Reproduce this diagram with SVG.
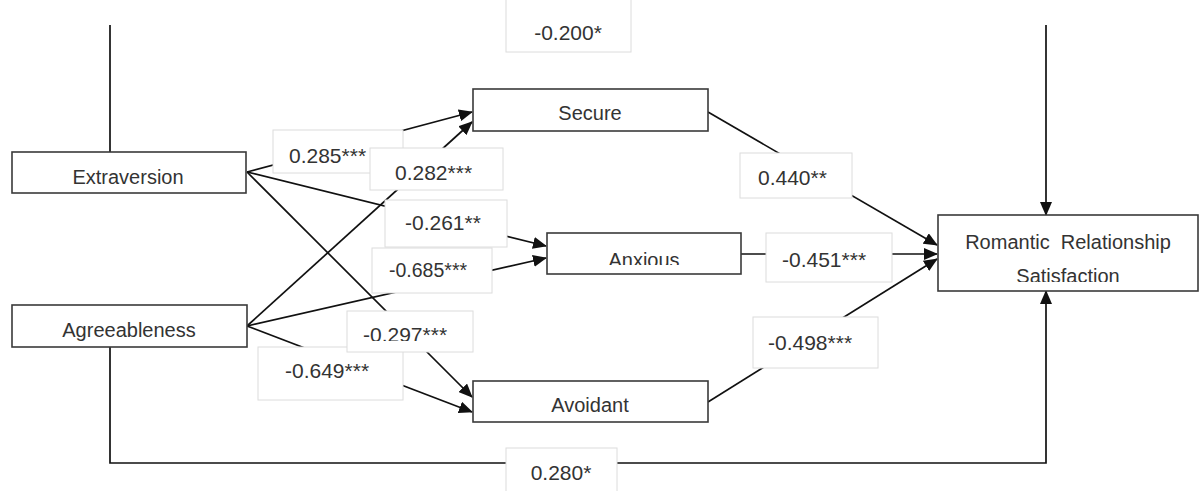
<svg xmlns="http://www.w3.org/2000/svg" width="1203" height="491" viewBox="0 0 1203 491">
<style>
  .node rect { fill: #fff; stroke: #3a3a3a; stroke-width: 1.6; }
  .node text { font-family: "Liberation Sans", Arial, sans-serif; font-size: 20px; fill: #333; text-anchor: middle; }
  .conn { fill: none; stroke: #111; stroke-width: 1.7; }
  .arr { marker-end: url(#ah); }
  .lbl rect { fill: #fff; stroke: #dcdcdc; stroke-width: 1; }
  .lbl text { font-family: "Liberation Sans", Arial, sans-serif; font-size: 21px; fill: #333; }
</style>
<defs>
  <marker id="ah" markerUnits="userSpaceOnUse" markerWidth="14" markerHeight="12" refX="13" refY="6" orient="auto">
    <path d="M0,0 L14,6 L0,12 z" fill="#111"/>
  </marker>
  <clipPath id="clipAnx"><rect x="547" y="233" width="194" height="32"/></clipPath>
  <clipPath id="clipSat"><rect x="938" y="258" width="260" height="24"/></clipPath>
  <clipPath id="clip297"><rect x="347" y="311" width="126" height="30"/></clipPath>
  <clipPath id="clip285"><rect x="273" y="130" width="97" height="43"/></clipPath>
</defs>
<rect width="1203" height="491" fill="#fff"/>

<g id="connectors">
  <path class="conn" d="M110,152 V25"/>
  <path class="conn arr" d="M1046,25 V215"/>
  <path class="conn arr" d="M110,347 V463 H1046 V291"/>
  <path class="conn arr" d="M247,172 L472,112"/>
  <path class="conn arr" d="M247,326 L472,122"/>
  <path class="conn arr" d="M247,172 L546,246"/>
  <path class="conn arr" d="M247,326 L546,258"/>
  <path class="conn arr" d="M247,172 L472,397"/>
  <path class="conn arr" d="M247,326 L472,412"/>
  <path class="conn arr" d="M708,112 L937,245"/>
  <path class="conn arr" d="M741,254 L937,254"/>
  <path class="conn arr" d="M708,402 L937,259"/>
</g>

<g id="labels">
  <g class="lbl"><rect x="506" y="-2" width="125" height="54"/><text x="568" y="40" text-anchor="middle">-0.200*</text></g>
  <g class="lbl"><rect x="273" y="130" width="130" height="43"/><text x="289" y="163" clip-path="url(#clip285)">0.285***</text></g>
  <g class="lbl"><rect x="370" y="148" width="133" height="42"/><text x="395" y="180">0.282***</text></g>
  <g class="lbl"><rect x="385" y="200" width="122" height="47"/><text x="405" y="230">-0.261**</text></g>
  <g class="lbl"><rect x="372" y="248" width="120" height="45"/><text x="389" y="277" style="font-size:19.5px">-0.685***</text></g>
  <g class="lbl"><rect x="258" y="347" width="145" height="53"/><text x="285" y="378">-0.649***</text></g>
  <g class="lbl"><rect x="347" y="311" width="126" height="41"/><text x="363" y="342" clip-path="url(#clip297)">-0.297***</text></g>
  <g class="lbl"><rect x="740" y="153" width="112" height="45"/><text x="758" y="185">0.440**</text></g>
  <g class="lbl"><rect x="766" y="233" width="126" height="49"/><text x="782" y="267">-0.451***</text></g>
  <g class="lbl"><rect x="753" y="317" width="125" height="51"/><text x="768" y="350">-0.498***</text></g>
  <g class="lbl"><rect x="506" y="448" width="111" height="46"/><text x="561" y="480" text-anchor="middle">0.280*</text></g>
</g>

<g id="extraversion" class="node"><rect x="12" y="152" width="234" height="41"/><text x="128" y="184">Extraversion</text></g>
<g id="agreeableness" class="node"><rect x="12" y="305" width="235" height="42"/><text x="129" y="337">Agreeableness</text></g>
<g id="secure" class="node"><rect x="473" y="89" width="235" height="42"/><text x="590" y="120">Secure</text></g>
<g id="anxious" class="node"><rect x="547" y="233" width="194" height="41"/><text x="644" y="267" clip-path="url(#clipAnx)">Anxious</text></g>
<g id="avoidant" class="node"><rect x="473" y="381" width="235" height="41"/><text x="590" y="412">Avoidant</text></g>
<g id="satisfaction" class="node"><rect x="938" y="215" width="260" height="76"/>
  <text x="1068" y="249" xml:space="preserve">Romantic  Relationship</text>
  <text x="1068" y="283" clip-path="url(#clipSat)">Satisfaction</text>
</g>
</svg>
